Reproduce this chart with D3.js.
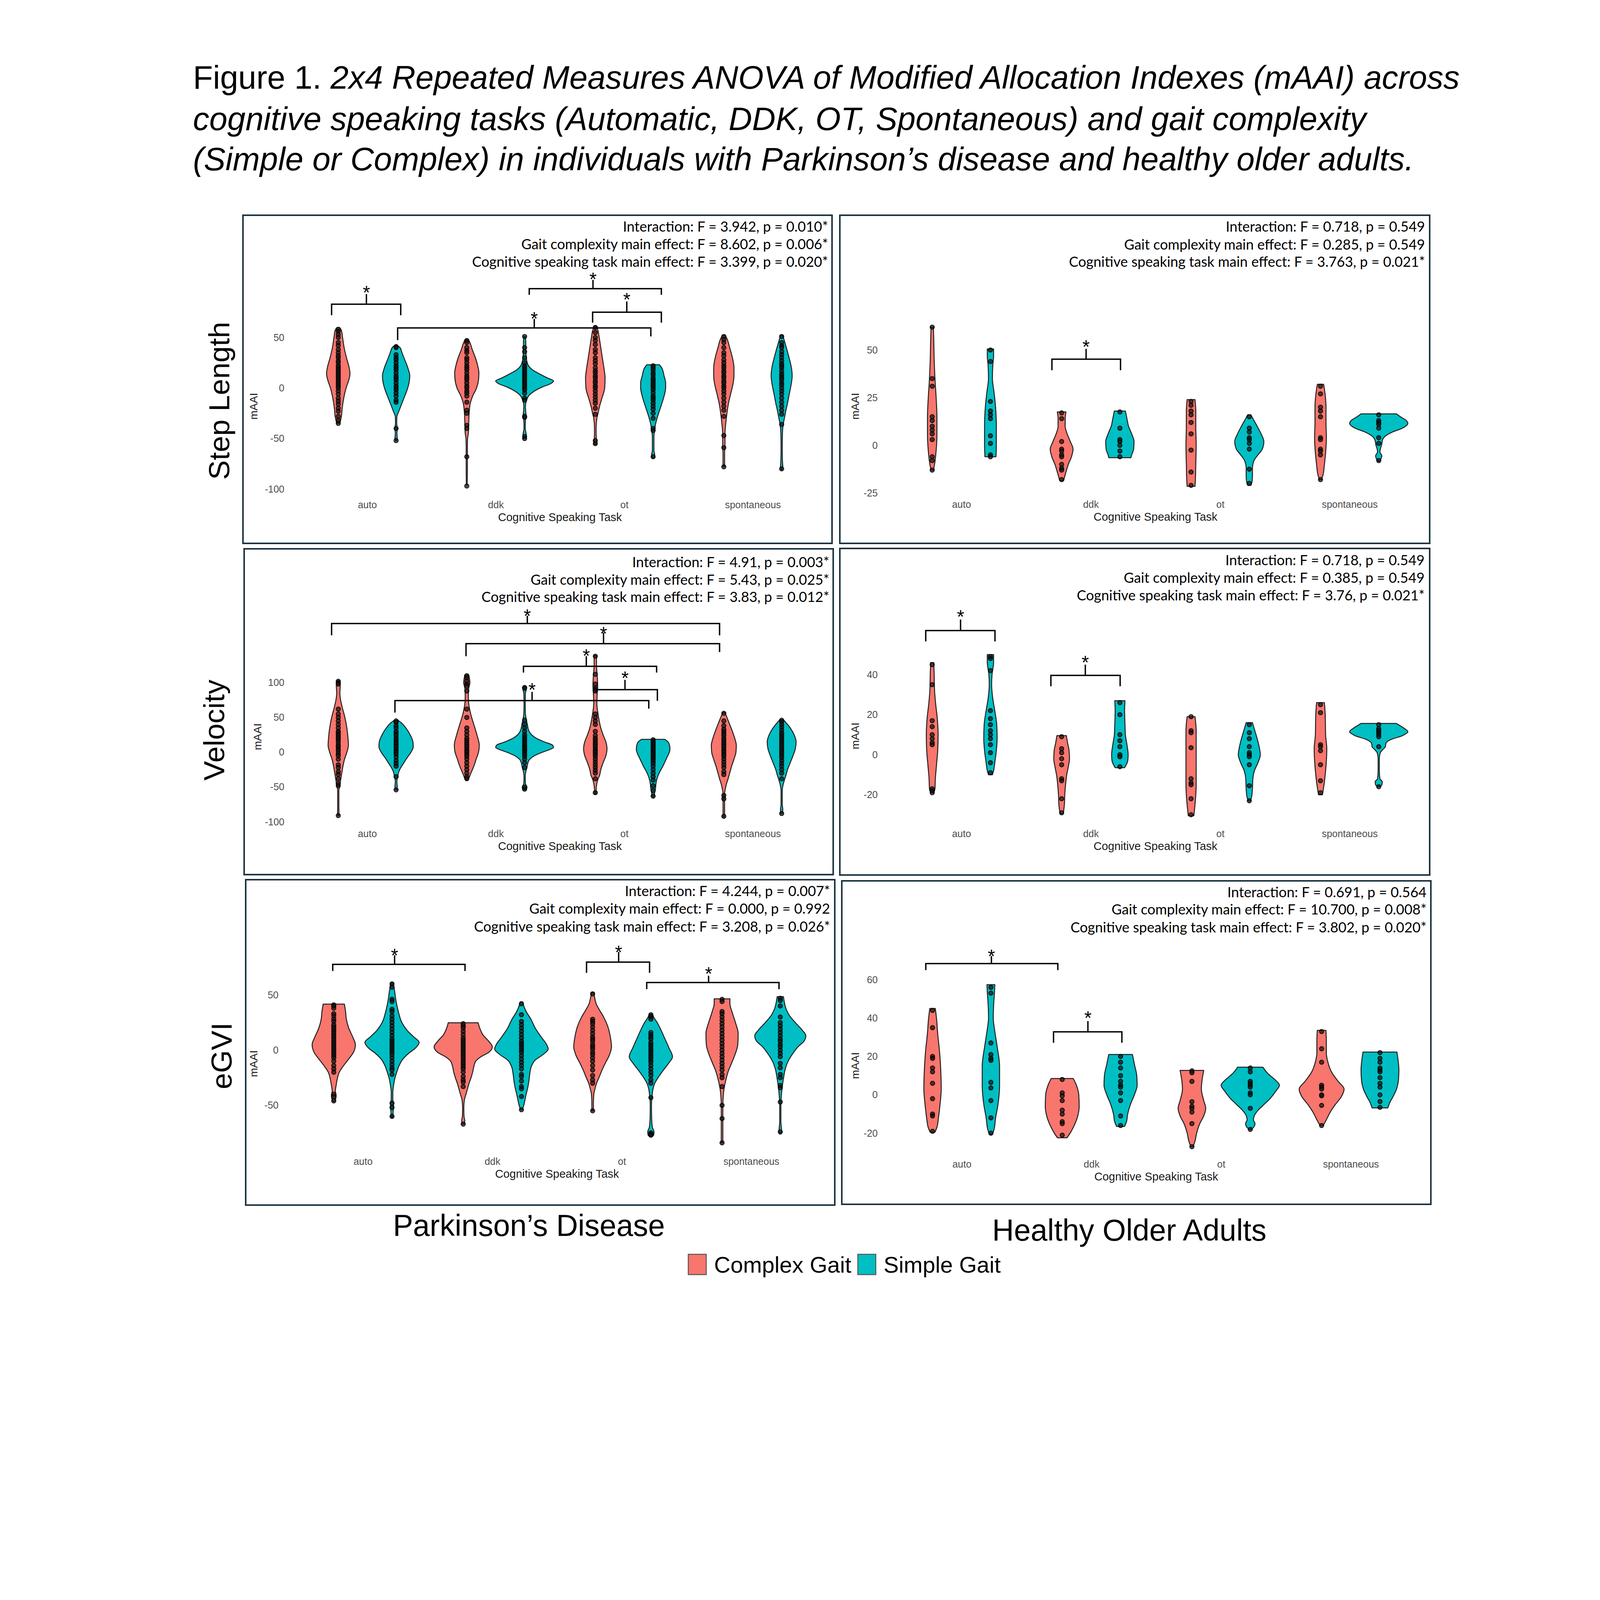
<!DOCTYPE html>
<html><head><meta charset="utf-8">
<script src="https://cdn.jsdelivr.net/npm/d3@7"></script>
<style>body{margin:0;background:#fff}</style>
</head><body>
<svg id="c" width="4320" height="4800"></svg>
<script>
// ---------------- DATA ----------------
const tasks = ["auto", "ddk", "ot", "spontaneous"];
const gaits = ["Complex Gait", "Simple Gait"];
const rowLabels = ["Step Length", "Velocity", "eGVI"];
const groupLabels = ["Parkinson\u2019s Disease", "Healthy Older Adults"];
const titleLines = [
  ["Figure 1. ", "2x4 Repeated Measures ANOVA of Modified Allocation Indexes (mAAI) across"],
  ["", "cognitive speaking tasks (Automatic, DDK, OT, Spontaneous) and gait complexity"],
  ["", "(Simple or Complex) in individuals with Parkinson\u2019s disease and healthy older adults."]
];
const xAxisTitle = "Cognitive Speaking Task";
const yAxisTitle = "mAAI";

// order of violins in each panel: auto-Complex, auto-Simple, ddk-C, ddk-S, ot-C, ot-S, spont-C, spont-S
// violin profiles: [mAAI value, relative density (0-74 scale, 74 = widest violin)]
const stepPD_ticks = [-100, -50, 0, 50];
const stepPD_violin = [
  [[60,3],[57,8],[50,11],[40,15],[30,21],[20,28],[14,30],[8,27],[0,20],[-10,14],[-20,10],[-28,8],[-35,4]],
  [[42,4],[40,10],[35,15],[28,22],[20,30],[12,35],[5,33],[-2,28],[-10,20],[-18,12],[-24,6],[-28,2],[-35,1.5],[-40,3],[-45,2],[-50,3],[-52,1]],
  [[48,4],[45,8],[38,14],[30,22],[22,28],[15,31],[8,30],[0,25],[-8,15],[-15,9],[-25,6],[-35,5],[-45,4],[-50,2],[-60,1.5],[-80,1.5],[-96,1]],
  [[51,2],[45,3],[38,3],[32,4],[26,6],[22,10],[18,20],[14,38],[10,58],[7,74],[4,65],[1,45],[-3,25],[-7,12],[-12,5],[-18,2],[-24,3],[-28,4],[-32,2],[-40,1.5],[-46,4],[-50,3]],
  [[61,3],[58,6],[50,10],[40,14],[30,18],[20,22],[10,25],[0,24],[-10,17],[-18,11],[-25,7],[-30,4],[-40,2],[-50,2.5],[-54,4],[-56,2]],
  [[23,16],[20,22],[12,28],[5,32],[0,32],[-8,28],[-18,20],[-25,14],[-30,10],[-36,6],[-42,4],[-48,2],[-55,2],[-62,2],[-66,4],[-69,2]],
  [[52,4],[48,9],[40,15],[30,22],[20,26],[12,26],[5,24],[-5,18],[-15,12],[-25,8],[-35,5],[-45,3],[-55,3],[-65,2],[-78,2]],
  [[52,3],[48,6],[40,12],[30,19],[20,25],[12,27],[5,25],[-5,20],[-15,15],[-22,11],[-30,7],[-36,4],[-45,2],[-60,1.5],[-72,2],[-78,3],[-81,1]]
];
const stepPD_points = [
  [58,56,53,50,45,42,38,35,32,30,27,25,22,20,18,16,14,12,10,8,6,4,2,0,-3,-6,-10,-13,-16,-20,-23,-28,-32,-35],
  [41,40,33,30,28,25,22,20,18,15,12,10,8,5,2,0,-2,-5,-8,-12,-14,-40,-52],
  [47,45,40,37,35,30,28,25,22,20,18,15,12,10,8,5,2,0,-3,-5,-8,-14,-22,-25,-37,-40,-68,-97],
  [51,40,36,30,25,22,20,18,16,14,12,10,8,6,4,2,0,-2,-5,-10,-12,-28,-29,-48,-50],
  [60,55,50,47,43,38,35,30,27,24,20,17,15,12,10,7,5,2,0,-3,-6,-9,-12,-15,-20,-26,-52,-55],
  [22,20,18,15,13,10,8,6,4,2,0,-2,-5,-8,-10,-12,-15,-18,-21,-25,-30,-40,-42,-68],
  [51,48,45,40,35,32,28,25,22,20,17,15,12,10,7,5,2,0,-3,-6,-10,-14,-18,-22,-28,-47,-59,-78],
  [51,45,42,40,36,33,30,27,24,22,20,17,14,12,10,8,5,3,0,-3,-6,-10,-14,-18,-22,-26,-36,-80]
];
// brackets: [x from, x to (task units), bar value, left leg end, right leg end, stem x, stem top, star value]
const stepPD_brackets = [
  [-0.277, 0.261, 83, 72, 72, -0.006, 93, 99],
  [0.237, 2.207, 59.5, 47.4, 51.1, 1.30, 68.4, 73],
  [1.261, 2.289, 98.3, 92.2, 92.2, 1.757, 107, 112],
  [1.754, 2.289, 75, 64.7, 64.7, 2.02, 85.7, 92]
];
const stepPD_stats = ["Interaction: F = 3.942, p = 0.010*", "Gait complexity main effect: F = 8.602, p = 0.006*", "Cognitive speaking task main effect: F = 3.399, p = 0.020*"];

const stepHOA_ticks = [-25, 0, 25, 50];
const stepHOA_violin = [
  [[62,3],[55,4],[45,5],[35,7],[25,10],[15,12],[5,12],[0,11],[-5,9],[-10,6],[-13,3]],
  [[50.5,8],[47,8],[42,6],[35,5],[28,9],[20,13],[10,15],[0,15],[-6,14]],
  [[17.5,11],[14,9],[10,9],[6,14],[2,22],[-2,29],[-6,25],[-10,17],[-14,11],[-18.5,5]],
  [[18,14],[14,18],[10,22],[6,30],[2,36],[-2,35],[-5,30],[-6.5,28]],
  [[24,10],[18,12],[10,12],[0,13],[-10,12],[-18,11],[-21.5,10]],
  [[16,4],[13,12],[10,20],[6,30],[2,37],[-2,33],[-5,22],[-8,12],[-12,8],[-16,8],[-19,7],[-21,4]],
  [[32,8],[28,11],[20,14],[12,14],[4,15],[-4,13],[-10,10],[-15,7],[-18,3]],
  [[16.5,45],[15,55],[13,70],[11.5,74],[9,60],[7,35],[5,18],[3,10],[0,7],[-2,4],[-3.5,3],[-5.5,8],[-7,6],[-8.4,2]]
];
const stepHOA_points = [
  [62,35,31,15,13,10,8,6,3,-6,-8,-13],
  [50,44,23,18,16,14,5,1,-5,-6],
  [17,14,2,-2,-3,-5,-6,-10,-12,-13,-18],
  [17.5,9,3,2,0,-3,-6],
  [23,21,18,16,12,6,-2.5,-14,-21],
  [15,9,7,4,3,1,-2,-12.5,-20],
  [31,27,20,18,15,4,3,-2,-3,-5,-18],
  [16,13,12,11,9,4,1,-8]
];
const stepHOA_brackets = [[0.70, 1.23, 45.2, 39.4, 39.4, 0.964, 50.6, 54]];
const stepHOA_stats = ["Interaction: F = 0.718, p = 0.549", "Gait complexity main effect: F = 0.285, p = 0.549", "Cognitive speaking task main effect: F = 3.763, p = 0.021*"];

const velPD_ticks = [-100, -50, 0, 50, 100];
const velPD_violin = [
  [[102,4],[95,5],[85,4],[75,6],[65,10],[50,17],[35,22],[20,25],[10,26],[0,22],[-10,16],[-20,12],[-30,9],[-40,6],[-48,4],[-55,1.5],[-75,1.5],[-91,2]],
  [[45.5,6],[42,14],[35,25],[25,36],[15,43],[8,44],[0,38],[-8,28],[-15,20],[-22,12],[-28,7],[-35,4],[-42,2],[-50,3],[-54,2]],
  [[111,5],[105,7],[100,8],[92,5],[80,4],[70,5],[55,10],[40,18],[25,26],[10,32],[0,30],[-10,24],[-20,18],[-28,12],[-35,7],[-40,3]],
  [[94,4],[90,4],[85,2],[70,1.5],[55,2],[48,4],[40,7],[32,10],[25,18],[20,30],[15,50],[10,72],[7,74],[3,60],[0,45],[-5,25],[-10,13],[-16,8],[-22,6],[-28,3],[-35,1.5],[-45,2],[-50,6],[-54,4]],
  [[139,3],[125,3],[110,5],[95,6],[85,5],[70,4],[55,7],[45,10],[35,14],[25,20],[15,27],[5,30],[-5,27],[-15,20],[-25,14],[-33,11],[-40,6],[-48,3],[-55,2],[-60,2]],
  [[18.6,30],[15,38],[10,42],[4,43],[-2,40],[-8,35],[-14,30],[-20,25],[-27,18],[-33,13],[-40,9],[-46,7],[-52,6],[-58,4],[-64,2]],
  [[57,3],[50,8],[40,15],[30,22],[20,28],[10,32],[0,31],[-10,26],[-20,20],[-30,15],[-38,11],[-45,7],[-52,4],[-60,2],[-75,2],[-93,2]],
  [[46.5,5],[42,12],[35,22],[25,32],[15,37],[5,35],[-5,29],[-15,22],[-25,15],[-33,11],[-40,7],[-46,4],[-55,1.5],[-75,1.5],[-82,3],[-88,2]]
];
const velPD_points = [
  [102,100,98,62,55,50,45,40,35,30,28,25,22,20,17,14,10,8,5,2,-2,-5,-10,-18,-22,-28,-32,-38,-45,-48,-91],
  [45,43,38,35,30,27,24,20,17,14,11,8,5,2,0,-3,-7,-12,-16,-20,-35,-54],
  [110,107,102,98,95,88,62,50,35,30,25,20,17,14,11,8,5,2,0,-3,-6,-10,-15,-20,-25,-30,-35,-38],
  [93,92,46,40,35,30,25,22,19,16,13,10,8,6,4,2,0,-3,-6,-10,-15,-22,-50,-53],
  [138,112,98,92,90,88,55,50,45,40,30,24,20,17,14,11,8,5,2,0,-3,-6,-10,-14,-18,-22,-26,-30,-38,-58],
  [18,16,14,12,10,8,6,4,2,0,-2,-4,-6,-8,-10,-13,-16,-20,-25,-30,-35,-40,-48,-55,-63],
  [56,45,38,33,30,27,24,20,17,14,11,8,5,2,0,-3,-6,-10,-14,-18,-22,-28,-32,-62,-67,-92],
  [46,44,40,36,32,28,25,22,19,16,13,10,7,4,1,-2,-5,-8,-12,-16,-20,-25,-30,-38,-88]
];
const velPD_brackets = [
  [-0.277, 2.742, 185, 168, 168, 1.246, 196, 202],
  [0.769, 2.742, 156, 138, 144, 1.839, 172, 177],
  [1.216, 2.252, 123.5, 114.5, 114.5, 1.705, 138, 145],
  [1.781, 2.258, 90, 90, 74, 2.006, 104, 113],
  [0.216, 2.191, 74.3, 57, 62.8, 1.283, 86.7, 96]
];
const velPD_stats = ["Interaction: F = 4.91, p = 0.003*", "Gait complexity main effect: F = 5.43, p = 0.025*", "Cognitive speaking task main effect: F = 3.83, p = 0.012*"];

const velHOA_ticks = [-20, 0, 20, 40];
const velHOA_violin = [
  [[46,4],[40,5],[32,6],[25,9],[18,13],[10,15],[2,14],[-5,11],[-12,8],[-17,7],[-19,4]],
  [[50,8],[46,8],[40,4],[35,3],[28,6],[22,11],[15,16],[8,17],[2,15],[-4,11],[-8,8],[-10,5]],
  [[9.5,12],[6,15],[2,19],[-2,20],[-6,17],[-10,13],[-15,10],[-20,8],[-25,7],[-29.5,4]],
  [[27,13],[22,12],[15,13],[10,14],[5,18],[0,21],[-3,20],[-6.5,12]],
  [[19,10],[12,13],[5,13],[-5,13],[-15,13],[-25,10],[-30.5,7]],
  [[16,8],[12,14],[8,20],[4,25],[0,28],[-4,22],[-8,13],[-12,9],[-17,8],[-21,6],[-23,3]],
  [[26,10],[20,12],[10,13],[3,16],[-3,15],[-10,12],[-15,9],[-20,5]],
  [[15.6,45],[13.5,62],[11.5,74],[9.5,60],[7.5,30],[5.5,18],[4,17],[2.5,10],[1,4],[-2,1.5],[-8,1.5],[-12,3],[-13.5,9],[-15,8],[-16,3]]
];
const velHOA_points = [
  [45,35,17,14,10,8,6,5,-17,-18,-19],
  [49,48,42,22,18,15,12,10,8,5,1,-4,-9],
  [9,3,1,-2,-5,-12,-13,-22,-29],
  [26,20,10,7,4,0,-1,-6],
  [19,12,11,3.5,-12,-14,-15,-22,-30],
  [15,11,8,4,1,0,-1,-5,-15.5,-23],
  [25,21,5,4,2,-5,-13,-19],
  [15,13,12,11,10,9,4,-16]
];
const velHOA_brackets = [
  [-0.275, 0.26, 62, 56.6, 56.6, -0.006, 67.5, 71],
  [0.692, 1.227, 39.6, 34.2, 34.2, 0.958, 45, 48.2]
];
const velHOA_stats = ["Interaction: F = 0.718, p = 0.549", "Gait complexity main effect: F = 0.385, p = 0.549", "Cognitive speaking task main effect: F = 3.76, p = 0.021*"];

const egviPD_ticks = [-50, 0, 50];
const egviPD_violin = [
  [[41.7,27],[35,30],[28,32],[20,38],[12,48],[5,55],[-2,50],[-8,38],[-14,25],[-20,14],[-26,9],[-32,6],[-37,4],[-41,6],[-44,5],[-46.5,2]],
  [[61,3],[55,6],[45,10],[35,16],[25,25],[18,38],[12,55],[7,69],[2,60],[-3,42],[-8,28],[-14,18],[-20,12],[-26,7],[-32,4],[-38,2],[-45,2],[-50,4],[-55,3],[-61,2]],
  [[24.8,38],[20,42],[14,50],[8,65],[3,74],[-2,65],[-6,45],[-10,32],[-15,27],[-20,24],[-25,20],[-30,15],[-35,11],[-40,7],[-45,3],[-52,1.5],[-60,2],[-64,4],[-67,2]],
  [[43.6,3],[40,6],[35,12],[28,24],[20,35],[12,50],[5,64],[1,68],[-4,55],[-9,35],[-15,25],[-22,21],[-28,19],[-34,16],[-40,12],[-45,9],[-50,6],[-54,2]],
  [[52,3],[48,5],[42,9],[36,18],[30,28],[22,38],[12,45],[3,48],[-5,42],[-12,32],[-18,24],[-25,16],[-30,10],[-35,6],[-40,3],[-48,2],[-55,2]],
  [[32.6,4],[30,7],[25,16],[18,26],[10,36],[2,46],[-6,55],[-12,45],[-18,32],[-24,20],[-30,10],[-36,5],[-42,3],[-50,1.5],[-62,2],[-70,4],[-74,8],[-77,7],[-78.5,2]],
  [[46.5,20],[42,20],[35,25],[25,34],[15,41],[5,40],[-5,32],[-12,24],[-20,15],[-28,9],[-35,5],[-42,3],[-50,2],[-65,2],[-84,2]],
  [[48.4,8],[44,10],[38,14],[32,22],[25,38],[18,56],[13,65],[8,60],[3,45],[-3,32],[-10,20],[-18,12],[-26,8],[-33,5],[-40,3],[-50,1.5],[-65,1.5],[-72,3],[-76,2]]
];
const egviPD_points = [
  [41,40,38,33,31,28,26,23,21,19,17,15,13,11,9,7,5,3,1,-1,-3,-5,-7,-10,-14,-17,-20,-40,-42,-46],
  [60,57,46,44,37,35,31,28,25,22,19,16,13,10,8,6,4,2,0,-2,-4,-7,-10,-13,-16,-18,-22,-48,-52,-60],
  [24,22,20,17,14,11,9,7,5,3,1,-1,-3,-5,-7,-9,-11,-13,-15,-17,-20,-24,-27,-29,-33,-67],
  [42,32,26,23,20,17,14,11,8,6,4,2,0,-2,-5,-8,-11,-14,-17,-22,-24,-28,-33,-35,-42,-54],
  [51,28,26,24,21,18,15,12,10,8,5,3,1,-2,-4,-7,-10,-14,-18,-23,-27,-30,-55],
  [32,30,28,16,14,12,10,7,5,3,1,-1,-3,-5,-7,-9,-11,-14,-17,-20,-23,-27,-30,-43,-75,-76,-77],
  [46,44,35,33,30,27,24,21,18,15,12,9,6,3,0,-3,-6,-9,-12,-15,-18,-22,-25,-33,-50,-62,-84],
  [47,45,40,30,25,22,19,16,13,10,8,5,3,0,-3,-6,-12,-16,-22,-25,-32,-34,-47,-74]
];
const egviPD_brackets = [
  [-0.233, 0.789, 77.7, 71.7, 71.7, 0.245, 85.9, 89.7],
  [1.728, 2.215, 79.7, 70, 70, 1.976, 88.8, 92.6],
  [2.193, 3.215, 61.2, 55.2, 55.2, 2.671, 67.4, 73.3]
];
const egviPD_stats = ["Interaction: F = 4.244, p = 0.007*", "Gait complexity main effect: F = 0.000, p = 0.992", "Cognitive speaking task main effect: F = 3.208, p = 0.026*"];

const egviHOA_ticks = [-20, 0, 20, 40, 60];
const egviHOA_violin = [
  [[45,7],[40,10],[32,13],[22,18],[12,21],[3,22],[-5,19],[-12,15],[-17,11],[-19.5,6]],
  [[57.4,10],[53,9],[47,7],[40,6],[33,10],[25,16],[15,22],[5,22],[-5,18],[-12,12],[-18,8],[-20.6,4]],
  [[8.5,28],[5,36],[0,42],[-6,43],[-12,38],[-17,28],[-20,20],[-22.4,12]],
  [[21,30],[16,35],[10,41],[5,42],[0,35],[-5,25],[-10,18],[-14,15],[-16.5,10]],
  [[12.7,30],[8,26],[3,24],[-3,30],[-7,35],[-11,30],[-15,20],[-20,12],[-24,8],[-27,3]],
  [[14.4,32],[11,45],[8,62],[5,74],[2,65],[-2,50],[-5,35],[-8,20],[-11,10],[-13,8],[-15,12],[-17,8],[-18,3]],
  [[33.6,11],[28,12],[22,12],[17,16],[12,25],[7,42],[3,57],[-1,50],[-5,35],[-9,22],[-13,12],[-16,4]],
  [[22.3,43],[18,46],[13,48],[8,47],[3,42],[-1,33],[-4,25],[-6.8,20]]
];
const egviHOA_points = [
  [44,35,20,19,14,12,6,-2,-10,-11,-19],
  [56,53,27,21,19,18,6.5,3.6,-3,-12,-20],
  [8,1,-0.5,-3,-8,-10,-14,-15,-21],
  [20,17,14,10,7,5,4,1,-3,-11,-16],
  [12.5,11.5,7,-3.6,-6,-7,-9,-15,-27],
  [14,12,7,6,5,4,1,0,-7,-18],
  [33,24,17,5,4,3,0,-0.5,-5.5,-16],
  [22,19,17,14,13,12,9,6,4,0,-3.5,-6.5]
];
const egviHOA_brackets = [
  [-0.277, 0.741, 68.4, 65, 65, 0.229, 72.3, 74.6],
  [0.708, 1.235, 32.8, 27.1, 27.1, 0.973, 38.4, 42.4]
];
const egviHOA_stats = ["Interaction: F = 0.691, p = 0.564", "Gait complexity main effect: F = 10.700, p = 0.008*", "Cognitive speaking task main effect: F = 3.802, p = 0.020*"];

// ---------------- LAYOUT / STYLE ----------------
const gaitColors = ["#F8766D", "#00BFC4"];
const FONT = "'Liberation Sans', Arial, sans-serif";
const STATFONT = "Lato, 'Open Sans', sans-serif";
const PLOTFONT = "'Liberation Sans', Arial, sans-serif";

const panels = [
  {box:[622,551,2130,1391], yDom:[-100,50], yRng:[1252,864], xRng:[940,1927], ticks:stepPD_ticks, violins:stepPD_violin, points:stepPD_points, brackets:stepPD_brackets, stats:stepPD_stats, yLabX:728, xTickY:1292, xTitleY:1324, mX:649, mY:1040, statsX:2120, statsY:[580,625,670]},
  {box:[2150,551,3660,1391], yDom:[-25,50], yRng:[1262,896], xRng:[2461,3455], ticks:stepHOA_ticks, violins:stepHOA_violin, points:stepHOA_points, brackets:stepHOA_brackets, stats:stepHOA_stats, yLabX:2247, xTickY:1291, xTitleY:1323, mX:2189, mY:1040, statsX:3648, statsY:[580,626,670]},
  {box:[625,1405,2133,2239], yDom:[-100,100], yRng:[2104,1747.6], xRng:[940,1927], ticks:velPD_ticks, violins:velPD_violin, points:velPD_points, brackets:velPD_brackets, stats:velPD_stats, yLabX:728, xTickY:2134, xTitleY:2166, mX:659, mY:1886, statsX:2123, statsY:[1439,1484,1528]},
  {box:[2150,1404,3660,2240], yDom:[-20,40], yRng:[2034.5,1727], xRng:[2461,3455], ticks:velHOA_ticks, violins:velHOA_violin, points:velHOA_points, brackets:velHOA_brackets, stats:velHOA_stats, yLabX:2247, xTickY:2134, xTitleY:2166, mX:2189, mY:1884, statsX:3647, statsY:[1434,1479,1524]},
  {box:[629,2252,2137,3085], yDom:[-50,50], yRng:[2829.6,2547], xRng:[929,1923], ticks:egviPD_ticks, violins:egviPD_violin, points:egviPD_points, brackets:egviPD_brackets, stats:egviPD_stats, yLabX:713, xTickY:2973, xTitleY:3005, mX:649, mY:2723, statsX:2125, statsY:[2281,2326,2372]},
  {box:[2155,2255,3663,3083], yDom:[-20,60], yRng:[2901,2508], xRng:[2462,3458], ticks:egviHOA_ticks, violins:egviHOA_violin, points:egviHOA_points, brackets:egviHOA_brackets, stats:egviHOA_stats, yLabX:2247, xTickY:2980, xTitleY:3012, mX:2189, mY:2728, statsX:3652, statsY:[2284,2328,2374]}
];

// ---------------- DRAW ----------------
const svg = d3.select("#c");
svg.append("rect").attr("width", 4320).attr("height", 4800).attr("fill", "#fff");

// title (font size fitted so line 1 spans the reference width)
const titleBase = [227, 333, 436];
const titleEls = titleLines.map((ln, i) => {
  const t = svg.append("text").attr("x", 494).attr("y", titleBase[i])
    .attr("font-family", FONT).attr("font-size", 80).attr("fill", "#000");
  if (ln[0]) t.append("tspan").text(ln[0]);
  t.append("tspan").attr("font-style", "italic").text(ln[1]);
  return t;
});
const tw = titleEls[0].node().getComputedTextLength();
const titleSize = Math.max(70, Math.min(90, 80 * 3243 / tw));
titleEls.forEach(t => t.attr("font-size", titleSize));

function drawPanel(p) {
  const g = svg.append("g");
  g.append("rect").attr("x", p.box[0]).attr("y", p.box[1])
    .attr("width", p.box[2] - p.box[0]).attr("height", p.box[3] - p.box[1])
    .attr("fill", "#fff").attr("stroke", "#1c3443").attr("stroke-width", 4);

  const y = d3.scaleLinear().domain(p.yDom).range(p.yRng);
  const x = d3.scalePoint().domain(tasks).range(p.xRng);
  const step = x.step();
  const dodge = step * 0.225;
  const w = d3.scaleLinear().domain([0, 74]).range([0, step * 0.225]);
  const cx = i => x(tasks[Math.floor(i / 2)]) + (i % 2 === 0 ? -dodge : dodge);
  const xu = u => x(tasks[0]) + u * step;

  const ya = g.append("g").attr("transform", `translate(${p.yLabX},0)`)
    .call(d3.axisLeft(y).tickValues(p.ticks).tickSize(0).tickPadding(0).tickFormat(d => String(d)));
  ya.select(".domain").remove();
  ya.selectAll("text").attr("font-family", PLOTFONT).attr("font-size", 25).attr("fill", "#4d4d4d");

  const xa = g.append("g").attr("transform", `translate(0,${p.xTickY - 9})`)
    .call(d3.axisBottom(x).tickSize(0).tickPadding(0));
  xa.select(".domain").remove();
  xa.selectAll("text").attr("font-family", PLOTFONT).attr("font-size", 25).attr("fill", "#4d4d4d");

  g.append("text").attr("x", (p.xRng[0] + p.xRng[1]) / 2).attr("y", p.xTitleY).attr("dy", "0.35em")
    .attr("text-anchor", "middle").attr("font-family", PLOTFONT).attr("font-size", 29).attr("fill", "#1a1a1a")
    .text(xAxisTitle);
  g.append("text").attr("transform", `translate(${p.mX},${p.mY}) rotate(-90)`).attr("dy", "0.35em")
    .attr("text-anchor", "middle").attr("font-family", PLOTFONT).attr("font-size", 28).attr("fill", "#1a1a1a")
    .text(yAxisTitle);

  p.violins.forEach((prof, i) => {
    const c = cx(i);
    const area = d3.area().curve(d3.curveMonotoneY)
      .y(d => y(d[0])).x0(d => c - w(d[1])).x1(d => c + w(d[1]));
    g.append("path").attr("d", area(prof)).attr("fill", gaitColors[i % 2])
      .attr("stroke", "#222").attr("stroke-width", 2.5).attr("stroke-linejoin", "round");
  });
  p.points.forEach((vals, i) => {
    const c = cx(i);
    g.append("g").selectAll("circle").data(vals).enter().append("circle")
      .attr("cx", c).attr("cy", d => y(d)).attr("r", 5.5)
      .attr("fill", "#111").attr("fill-opacity", 0.72)
      .attr("stroke", "#000").attr("stroke-opacity", 0.85).attr("stroke-width", 2);
  });
  p.brackets.forEach(b => {
    const [x1, x2, yh, yl, yr, xs, yt, ys] = b;
    g.append("path")
      .attr("d", `M${xu(x1)},${y(yl)}V${y(yh)}H${xu(x2)}V${y(yr)}M${xu(xs)},${y(yh)}V${y(yt)}`)
      .attr("fill", "none").attr("stroke", "#000").attr("stroke-width", 3.5);
    g.append("text").attr("x", xu(xs)).attr("y", y(ys)).attr("dy", "0.57em")
      .attr("text-anchor", "middle").attr("font-family", FONT).attr("font-size", 48).attr("fill", "#000").text("*");
  });
  p.stats.forEach((s, k) => {
    g.append("text").attr("x", p.statsX).attr("y", p.statsY[k]).attr("dy", "0.35em")
      .attr("text-anchor", "end").attr("font-family", STATFONT).attr("font-size", 36).attr("fill", "#000").text(s);
  });
}
panels.forEach(drawPanel);

// row labels
const rowPos = [[561, 1026], [548, 1869], [567, 2703]];
rowLabels.forEach((t, i) => {
  svg.append("text").attr("transform", `translate(${rowPos[i][0]},${rowPos[i][1]}) rotate(-90)`)
    .attr("dy", "0.35em").attr("text-anchor", "middle").attr("font-family", FONT)
    .attr("font-size", 75).attr("fill", "#000").text(t);
});

// group labels
const groupPos = [[1354, 3164], [2891, 3176]];
groupLabels.forEach((t, i) => {
  svg.append("text").attr("x", groupPos[i][0]).attr("y", groupPos[i][1]).attr("text-anchor", "middle")
    .attr("font-family", FONT).attr("font-size", 77).attr("fill", "#000").text(t);
});

// legend
const legX = [1762, 2196];
gaits.forEach((gname, i) => {
  svg.append("rect").attr("x", legX[i]).attr("y", 3211).attr("width", 46).attr("height", 52)
    .attr("fill", gaitColors[i]).attr("stroke", "#555").attr("stroke-width", 2.5);
  svg.append("text").attr("x", legX[i] + 66).attr("y", 3258).attr("font-family", FONT)
    .attr("font-size", 58).attr("fill", "#000").text(gname);
});
</script>
</body></html>
